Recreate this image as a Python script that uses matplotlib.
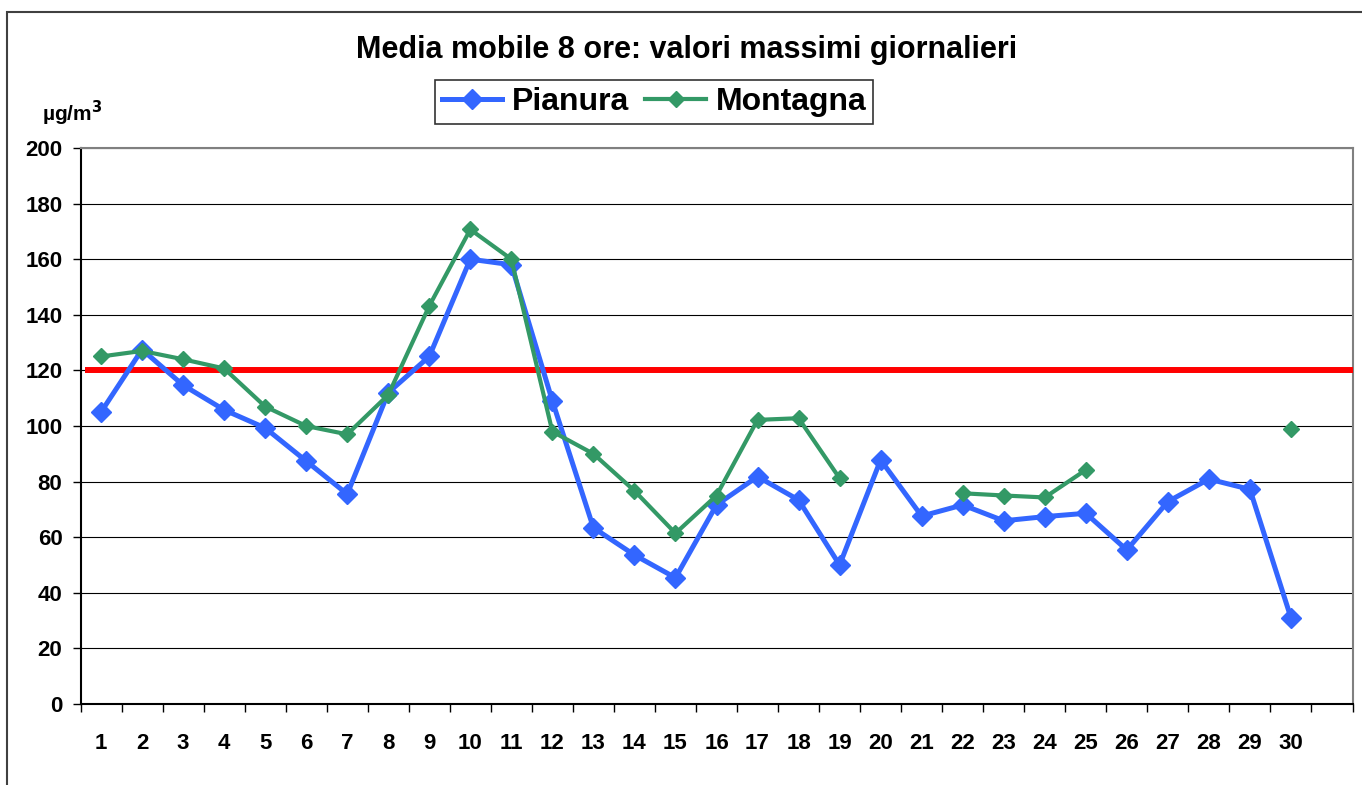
import numpy as np
import matplotlib as mpl
import matplotlib.pyplot as plt
from matplotlib.patches import Rectangle

mpl.rcParams["font.family"] = ["Liberation Sans", "DejaVu Sans"]

DAYS = np.arange(1, 31)
PIANURA = [105, 127.5, 114.7, 105.8, 99.3, 87.4, 75.5, 112, 125, 160,
           158, 109, 63.4, 53.6, 45.4, 71.6, 81.8, 73.4, 50, 87.8,
           67.6, 71.6, 65.9, 67.4, 68.6, 55.4, 72.8, 80.9, 77.2, 31]
MONTAGNA = [125, 127, 124, 120.7, 107, 100, 97, 111.2, 143.2, 170.7,
            160, 98, 90, 76.7, 61.4, 75, 102.2, 102.8, 81.2, np.nan,
            np.nan, 75.8, 75, 74.3, 84.2, np.nan, np.nan, np.nan, np.nan, 99]
LIMIT = 120

BLUE = "#3366FF"
GREEN = "#339966"

fig = plt.figure(figsize=(13.62, 7.85), dpi=100)
ax = fig.add_axes([80.5 / 1362, 81 / 785, 1272 / 1362, 556 / 785])

# cornice dell'area grafico (tagliata a destra e in basso come nell'originale)
fig.patches.append(Rectangle((7 / 1362, -0.05), 1.1, (785 - 12) / 785 + 0.05,
                             transform=fig.transFigure, fill=False,
                             edgecolor="#404040", lw=1.5))

ax.plot(DAYS, PIANURA, color=BLUE, lw=3.6, marker="D", ms=10,
        label="Pianura", zorder=4)
ax.plot(DAYS, MONTAGNA, color=GREEN, lw=3.0, marker="D", ms=8,
        label="Montagna", zorder=5)
ax.plot([0.6, 31.5], [LIMIT, LIMIT], color="red", lw=4.3, zorder=3,
        solid_capstyle="butt")

ax.set_xlim(0.5, 31.5)
ax.set_ylim(0, 200)
ax.set_yticks(np.arange(0, 201, 20))
ax.yaxis.grid(True, color="black", lw=0.8)
ax.set_axisbelow(True)

ax.set_xticks(np.arange(0.5, 31.6, 1))
ax.set_xticklabels([])
ax.set_xticks(DAYS, minor=True)
ax.set_xticklabels([str(d) for d in DAYS], minor=True,
                   fontsize=16, fontweight="bold")
ax.tick_params(axis="x", which="minor", length=0, pad=21)
ax.tick_params(axis="x", which="major", length=6, width=1, direction="out")
ax.tick_params(axis="y", length=6, width=1, direction="out",
               labelsize=16, pad=7)
for lab in ax.get_yticklabels():
    lab.set_fontweight("bold")

for s in ["left", "bottom"]:
    ax.spines[s].set_color("black")
    ax.spines[s].set_linewidth(1.5)
for s in ["top", "right"]:
    ax.spines[s].set_color("#808080")
    ax.spines[s].set_linewidth(1.5)

fig.text(687 / 1362, 1 - 50 / 785, "Media mobile 8 ore: valori massimi giornalieri",
         ha="center", va="center", fontsize=22, fontweight="bold")
fig.text(42 / 1362, 1 - 113 / 785, "µg/m$^{\\mathbf{3}}$",
         ha="left", va="center", fontsize=15, fontweight="bold")

leg = fig.legend(loc="center", bbox_to_anchor=(654 / 1362, 1 - 102 / 785),
                 ncol=2, frameon=True, fancybox=False, edgecolor="black",
                 prop={"weight": "bold", "size": 23}, handlelength=1.9,
                 handletextpad=0.3, columnspacing=0.5, borderpad=0.22,
                 borderaxespad=0)
leg.get_frame().set_linewidth(1.2)

fig.savefig("out.png", dpi=100)
